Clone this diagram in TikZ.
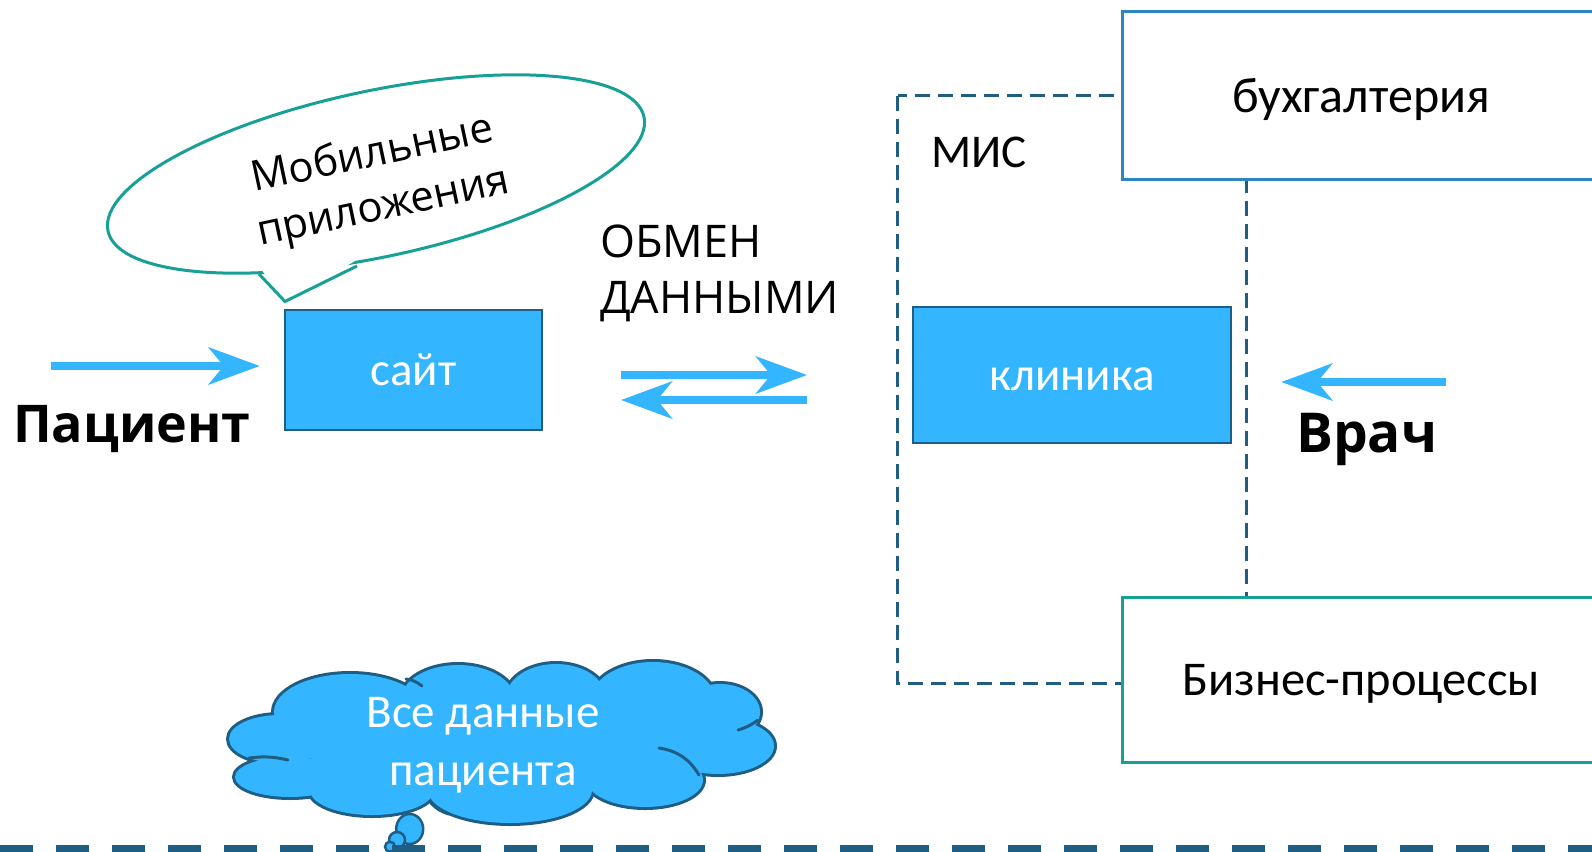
\documentclass[tikz,border=0pt]{standalone}
\usepackage{fontspec}
\setmainfont{Open Sans}
\newfontfamily\boxfont{Carlito}
\usetikzlibrary{arrows.meta}
\usetikzlibrary{shapes.geometric}
\usepackage{xcolor}

\definecolor{skyfill}{HTML}{33B5FF}
\definecolor{inkblue}{HTML}{1F5E82}
\definecolor{tealline}{HTML}{17A096}
\definecolor{ledgerblue}{HTML}{2E86C1}

\tikzset{
  flowarrow/.style={skyfill, line width=8pt, -{Stealth[length=51pt, width=37pt, inset=15pt]}},
  bluebox/.style={draw=inkblue, line width=2.5pt, fill=skyfill, text=white, inner sep=0pt,
    font=\boxfont\fontsize{47}{56}\selectfont},
  whitebox/.style={line width=3pt, fill=white, inner sep=0pt, text depth=0pt},
  misframe/.style={inkblue, line width=3pt, dash pattern=on 15pt off 8pt},
  actor/.style={inner sep=0pt, anchor=base west},
  puffline/.style={inkblue, line width=6pt},
  puffinner/.style={inkblue, line width=3pt, line cap=round},
  bubble/.style={draw=inkblue, line width=2.5pt, fill=skyfill},
}

\begin{document}
\begin{tikzpicture}[x=1pt, y=-1pt]
        \useasboundingbox (0,0) rectangle (1592,851);
        \clip (0,0) rectangle (1592,851);

        % MIS frame, partly hidden by the white boxes
        \draw[misframe] (897.5,95.5) rectangle (1246,683);
        \node[anchor=base west, inner sep=0pt, font=\boxfont\fontsize{47}{56}\selectfont] (mis) at (931,167) {МИС};

        \node[whitebox, draw=ledgerblue, minimum width=478pt, minimum height=167pt,
              font=\boxfont\fontsize{50}{60}\selectfont] (ledger) at (1361,95.5) {бухгалтерия};
        \node[whitebox, draw=tealline, minimum width=478pt, minimum height=165pt,
              font=\boxfont\fontsize{48.5}{58}\selectfont] (business) at (1361,680) {Бизнес-процессы};

        \node[bluebox, minimum width=257pt, minimum height=120pt] (site) at (413.5,370) {сайт};
        \node[bluebox, minimum width=318pt, minimum height=136pt, text height=32pt] (clinic) at (1072,375) {клиника};

        % callout over the site
        \node[ellipse, draw=tealline, line width=3pt, fill=white, rotate=12,
              minimum width=548pt, minimum height=166pt] (mobile) at (376,174) {};
        \coordinate (tailleft) at (259,274);
        \coordinate (tailtip) at (285,301.5);
        \coordinate (tailright) at (357,266);
        \fill[white] (261,269) -- (tailtip) -- (355,261) -- cycle;
        \draw[tealline, line width=3pt, line join=miter] (tailleft) -- (tailtip) -- (tailright);
        \node[rotate=12, align=center, inner sep=0pt, font=\fontsize{42}{54}\selectfont] (mobiletext) at (378,182) {Мобильные\\приложения};

        \node[anchor=north west, align=left, inner sep=0pt, font=\fontsize{45}{56}\selectfont] (exchange) at (600,225) {ОБМЕН\\ДАННЫМИ};

        \node[actor, font=\bfseries\fontsize{52}{62}\selectfont] (patient) at (13,442) {Пациент};
        \node[actor, font=\bfseries\fontsize{55}{66}\selectfont] (doctor) at (1296,452) {Врач};

        % arrows
        \coordinate (patientin) at (51,366);
        \draw[flowarrow, shorten >=24pt] (patientin) -- (site.west |- patientin);
        \coordinate (sendfrom) at (621,375);
        \coordinate (sendto) at (807,375);
        \coordinate (backfrom) at (807,400);
        \coordinate (backto) at (621,400);
        \draw[flowarrow] (sendfrom) -- (sendto);
        \draw[flowarrow] (backfrom) -- (backto);
        \coordinate (doctorin) at (1446,382);
        \draw[flowarrow, shorten >=49pt] (doctorin) -- (clinic.east |- doctorin);

        % patient data cloud: puffs stroked wide, then filled over
        \foreach \cx/\cy/\rx/\ry in {280/739/51/24, 350/712/76/38, 458/700/57/35, 556/698/50/34,
            653/700/62/38, 720/712/40/28, 718/746/56/28, 645/780/58/27, 510/790/82/33,
            372/790/62/25, 290/777/55/20}
          \draw[puffline] (\cx,\cy) ellipse (\rx pt and \ry pt);
        \foreach \cx/\cy/\rx/\ry in {280/739/51/24, 350/712/76/38, 458/700/57/35, 556/698/50/34,
            653/700/62/38, 720/712/40/28, 718/746/56/28, 645/780/58/27, 510/790/82/33,
            372/790/62/25, 290/777/55/20, 500/742/200/50}
          \fill[skyfill] (\cx,\cy) ellipse (\rx pt and \ry pt);
        \draw[puffinner] (406,679) to[bend left=15] (422,686);
        \draw[puffinner] (758,720) to[bend left=10] (738,730);
        \draw[puffinner] (659,748) to[bend left=25] (699,775);
        \draw[puffinner] (431,803) to[bend right=15] (449,814);
        \draw[puffinner] (288,760) to[bend right=10] (249,758);
        \node[align=center, text=white, inner sep=0pt, font=\boxfont\fontsize{47}{58}\selectfont] (cloudtext) at (483,745) {Все данные\\пациента};
        \draw[bubble] (409.7,829) ellipse (13.5pt and 15pt);
        \draw[bubble] (397,840) circle (8pt);
        \draw[bubble] (390,846.7) circle (5pt);

        \draw[inkblue, line width=7pt, dash pattern=on 33pt off 23pt] (0,848) -- (1592,848);

      \end{tikzpicture}
\end{document}
